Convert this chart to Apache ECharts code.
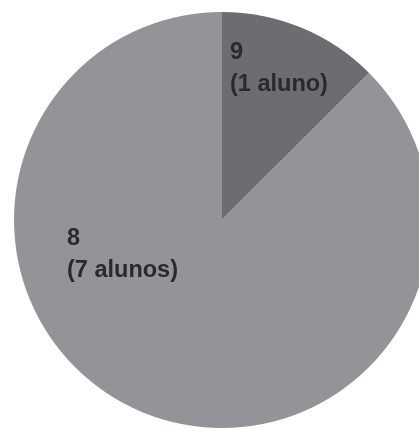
<!DOCTYPE html>
<html>
<head>
<meta charset="utf-8">
<script src="https://cdn.jsdelivr.net/npm/echarts@6/dist/echarts.min.js"></script>
<style>
html,body{margin:0;padding:0;background:#fff;}
#c{width:419px;height:429px;}
</style>
</head>
<body>
<div id="c"></div>
<script>
var categories = ['9', '8'];
var counts = [1, 7];
var units = ['aluno', 'alunos'];
var colors = ['#6c6d71', '#939498'];
var labelSpots = [[230, 37], [67, 223]];

var chart = echarts.init(document.getElementById('c'), null, {renderer: 'canvas'});
var data = categories.map(function (c, i) {
  return {
    name: c,
    value: counts[i],
    itemStyle: {color: colors[i]},
    label: {formatter: c + '\n(' + counts[i] + ' ' + units[i] + ')'}
  };
});
chart.setOption({
  animation: false,
  series: [{
    type: 'pie',
    center: [222, 220],
    radius: [0, 208],
    startAngle: 90,
    clockwise: true,
    silent: true,
    data: data,
    itemStyle: {borderWidth: 0},
    label: {
      show: true,
      position: 'inside',
      color: '#2a2a2a',
      fontFamily: 'Liberation Sans, Arial, sans-serif',
      fontWeight: 'bold',
      fontSize: 23.5,
      lineHeight: 32,
      align: 'left'
    },
    labelLine: {show: false},
    labelLayout: function (p) {
      var s = labelSpots[p.dataIndex];
      return {x: s[0], y: s[1], align: 'left', verticalAlign: 'top'};
    }
  }]
});
</script>
</body>
</html>
